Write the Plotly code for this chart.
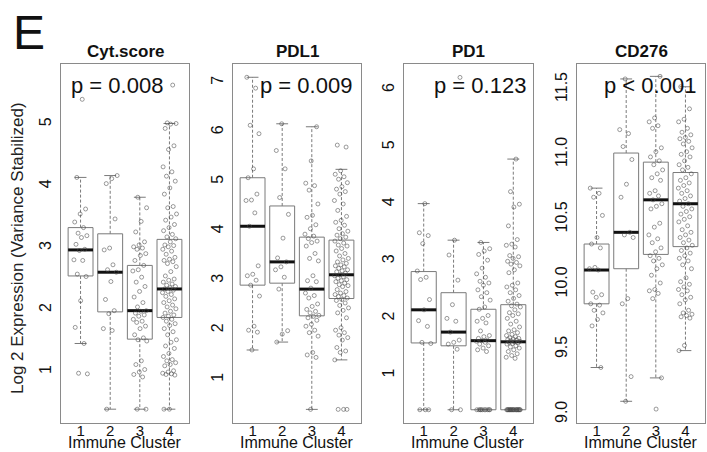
import plotly.graph_objects as go

# ---------------- data ----------------
CLUSTERS = [1, 2, 3, 4]
PANEL_TITLES = ["Cyt.score", "PDL1", "PD1", "CD276"]
P_LABELS = ["p = 0.008", "p = 0.009", "p = 0.123", "p < 0.001"]

# Cyt.score
CYT_HI = [4.14, 4.17, 3.82, 5.01]
CYT_Q3 = [3.33, 3.23, 2.72, 3.14]
CYT_MED = [2.97, 2.61, 1.99, 2.34]
CYT_Q1 = [2.55, 1.97, 1.53, 1.88]
CYT_LO = [1.46, 0.40, 0.40, 0.40]
CYT_PTS = [
    [5.40, 4.14, 3.63, 3.55, 3.42, 3.33, 3.24, 3.20, 3.17, 3.06, 2.98, 2.96, 2.81, 2.80,
     2.58, 2.54, 2.15, 1.72, 1.46, 0.98, 0.97],
    [4.17, 4.12, 4.04, 3.47, 3.00, 2.97, 2.73, 2.65, 2.61, 2.46, 2.17, 1.99, 1.94, 1.70,
     1.67, 0.40],
    [3.82, 3.65, 3.43, 3.26, 3.10, 3.05, 3.02, 3.00, 2.98, 2.91, 2.88, 2.80, 2.72, 2.65,
     2.63, 2.53, 2.45, 2.38, 2.30, 2.21, 2.12, 2.05, 1.99, 1.98, 1.95, 1.92, 1.90, 1.85,
     1.82, 1.80, 1.74, 1.70, 1.60, 1.55, 1.52, 1.50, 1.18, 1.12, 1.04, 1.00, 0.96, 0.92,
     0.40, 0.40],
    [5.63, 5.02, 5.01, 5.00, 4.93, 4.65, 4.59, 4.31, 4.23, 4.16, 4.08, 3.97, 3.87, 3.67,
     3.65, 3.55, 3.50, 3.45, 3.38, 3.33, 3.28, 3.22, 3.18, 3.15, 3.10, 3.05, 3.04, 3.02,
     2.98, 2.95, 2.90, 2.85, 2.82, 2.80, 2.78, 2.75, 2.70, 2.62, 2.55, 2.50, 2.48, 2.45,
     2.42, 2.40, 2.38, 2.36, 2.34, 2.32, 2.30, 2.28, 2.25, 2.22, 2.18, 2.15, 2.12, 2.08,
     2.05, 2.02, 1.98, 1.95, 1.92, 1.90, 1.88, 1.85, 1.82, 1.78, 1.75, 1.70, 1.65, 1.60,
     1.52, 1.48, 1.42, 1.38, 1.30, 1.25, 1.20, 1.18, 1.15, 1.12, 1.10, 1.02, 1.00, 0.98,
     0.97, 0.96, 0.95, 0.40, 0.40],
]

# PDL1
PDL1_HI = [7.11, 6.17, 6.11, 5.25]
PDL1_Q3 = [5.08, 4.51, 3.88, 3.82]
PDL1_MED = [4.10, 3.38, 2.83, 3.12]
PDL1_Q1 = [2.91, 2.95, 2.29, 2.64]
PDL1_LO = [1.60, 1.76, 0.40, 1.40]
PDL1_PTS = [
    [7.11, 6.89, 6.14, 5.97, 5.26, 5.08, 4.75, 4.63, 4.62, 4.37, 4.10, 3.30, 3.13, 3.10,
     3.01, 2.91, 2.69, 2.08, 2.00, 1.96, 1.60],
    [6.17, 5.63, 5.26, 4.68, 4.34, 3.86, 3.46, 3.38, 3.28, 3.22, 3.07, 2.83, 1.99, 1.92,
     1.76],
    [6.11, 5.42, 4.97, 4.92, 4.83, 4.55, 4.32, 4.28, 4.13, 4.05, 3.94, 3.90, 3.85, 3.80,
     3.77, 3.70, 3.55, 3.45, 3.40, 3.10, 3.00, 2.98, 2.85, 2.75, 2.70, 2.65, 2.53, 2.48,
     2.42, 2.38, 2.35, 2.30, 2.28, 2.25, 2.20, 2.12, 2.08, 2.00, 1.95, 1.88, 1.55, 1.50,
     1.45, 0.40],
    [5.74, 5.70, 5.22, 5.15, 5.10, 5.05, 4.98, 4.90, 4.85, 4.80, 4.75, 4.62, 4.55, 4.42,
     4.30, 4.22, 4.18, 4.12, 4.05, 4.00, 3.95, 3.92, 3.88, 3.85, 3.80, 3.76, 3.72, 3.70,
     3.65, 3.60, 3.55, 3.50, 3.45, 3.42, 3.38, 3.35, 3.32, 3.30, 3.28, 3.25, 3.22, 3.20,
     3.18, 3.15, 3.12, 3.10, 3.08, 3.05, 3.02, 3.00, 2.98, 2.95, 2.92, 2.90, 2.88, 2.82,
     2.78, 2.75, 2.72, 2.70, 2.68, 2.65, 2.62, 2.60, 2.55, 2.50, 2.45, 2.40, 2.35, 2.25,
     2.05, 2.00, 1.95, 1.90, 1.85, 1.80, 1.65, 1.58, 1.55, 1.40, 0.40, 0.40, 0.40],
]

# PD1
PD1_HI = [4.01, 3.37, 3.33, 4.79]
PD1_Q3 = [2.82, 2.45, 2.16, 2.24]
PD1_MED = [2.15, 1.76, 1.61, 1.59]
PD1_Q1 = [1.57, 1.52, 0.40, 0.40]
PD1_LO = [0.40, 0.40, 0.40, 0.40]
PD1_PTS = [
    [4.01, 3.50, 3.45, 3.31, 2.83, 2.72, 2.68, 2.33, 2.15, 1.96, 1.86, 1.58, 1.56, 0.40,
     0.40, 0.40],
    [6.22, 3.37, 3.11, 2.67, 2.24, 2.00, 1.95, 1.76, 1.62, 1.58, 1.55, 1.46, 0.40, 0.40],
    [3.33, 3.22, 3.18, 3.12, 3.02, 2.88, 2.78, 2.72, 2.65, 2.62, 2.58, 2.50, 2.45, 2.38,
     2.32, 2.20, 2.16, 2.05, 2.00, 1.95, 1.92, 1.78, 1.70, 1.68, 1.65, 1.62, 1.61, 1.60,
     1.58, 1.55, 1.52, 1.48, 1.45, 1.42, 0.40, 0.40, 0.40, 0.40, 0.40, 0.40, 0.40, 0.40,
     0.40, 0.40],
    [4.79, 4.22, 4.00, 3.95, 3.62, 3.38, 3.30, 3.28, 3.25, 3.10, 3.08, 3.05, 3.00, 2.98,
     2.95, 2.92, 2.85, 2.80, 2.62, 2.58, 2.55, 2.50, 2.45, 2.40, 2.35, 2.30, 2.25, 2.22,
     2.20, 2.15, 2.10, 2.08, 2.05, 2.00, 1.95, 1.90, 1.85, 1.80, 1.78, 1.75, 1.72, 1.70,
     1.68, 1.66, 1.65, 1.64, 1.63, 1.62, 1.61, 1.60, 1.59, 1.58, 1.57, 1.56, 1.55, 1.52,
     1.50, 1.48, 1.45, 1.42, 1.38, 1.35, 1.32, 1.30, 0.40, 0.40, 0.40, 0.40, 0.40, 0.40,
     0.40, 0.40, 0.40, 0.40, 0.40, 0.40, 0.40, 0.40, 0.40, 0.40, 0.40, 0.40, 0.40, 0.40],
]

# CD276
CD276_HI = [10.74, 11.58, 11.60, 11.52]
CD276_Q3 = [10.31, 11.01, 10.94, 10.86]
CD276_MED = [10.11, 10.40, 10.65, 10.62]
CD276_Q1 = [9.85, 10.12, 10.23, 10.29]
CD276_LO = [9.36, 9.10, 9.28, 9.49]
CD276_PTS = [
    [10.74, 10.70, 10.67, 10.53, 10.36, 10.31, 10.28, 10.13, 10.12, 10.11, 9.94, 9.92,
     9.90, 9.85, 9.84, 9.80, 9.78, 9.73, 9.68, 9.36],
    [11.58, 11.19, 11.16, 11.06, 10.96, 10.77, 10.67, 10.40, 10.38, 10.36, 9.89, 9.85,
     9.29, 9.10],
    [11.60, 11.28, 11.25, 11.22, 11.20, 11.05, 11.02, 10.98, 10.95, 10.92, 10.88, 10.85,
     10.82, 10.80, 10.72, 10.70, 10.68, 10.65, 10.62, 10.60, 10.58, 10.47, 10.44, 10.38,
     10.35, 10.32, 10.28, 10.25, 10.22, 10.20, 10.18, 10.15, 10.12, 10.07, 10.01, 9.96,
     9.95, 9.93, 9.89, 9.28, 9.04],
    [11.52, 11.35, 11.27, 11.25, 11.20, 11.17, 11.15, 11.13, 11.12, 11.10, 11.08, 11.05,
     11.02, 11.00, 10.98, 10.95, 10.92, 10.90, 10.88, 10.85, 10.82, 10.80, 10.78, 10.76,
     10.74, 10.72, 10.70, 10.68, 10.66, 10.64, 10.62, 10.60, 10.58, 10.56, 10.54, 10.52,
     10.50, 10.48, 10.45, 10.42, 10.40, 10.38, 10.36, 10.34, 10.32, 10.30, 10.28, 10.26,
     10.24, 10.22, 10.20, 10.18, 10.15, 10.12, 10.05, 10.02, 10.00, 9.98, 9.96, 9.95,
     9.92, 9.90, 9.88, 9.85, 9.80, 9.78, 9.77, 9.76, 9.75, 9.74, 9.53, 9.49],
]

Y_TICKS = [[1, 2, 3, 4, 5], [1, 2, 3, 4, 5, 6, 7], [1, 2, 3, 4, 5, 6],
           [9.0, 9.5, 10.0, 10.5, 11.0, 11.5]]
Y_TICKTEXT = [["1", "2", "3", "4", "5"], ["1", "2", "3", "4", "5", "6", "7"],
              ["1", "2", "3", "4", "5", "6"],
              ["9.0", "9.5", "10.0", "10.5", "11.0", "11.5"]]
Y_RANGES = [[0.177, 5.97], [0.125, 7.378], [0.168, 6.455], [8.933, 11.695]]

PANELS = [
    (CYT_LO, CYT_Q1, CYT_MED, CYT_Q3, CYT_HI, CYT_PTS),
    (PDL1_LO, PDL1_Q1, PDL1_MED, PDL1_Q3, PDL1_HI, PDL1_PTS),
    (PD1_LO, PD1_Q1, PD1_MED, PD1_Q3, PD1_HI, PD1_PTS),
    (CD276_LO, CD276_Q1, CD276_MED, CD276_Q3, CD276_HI, CD276_PTS),
]

# ---------------- layout / style ----------------
W, H = 707, 452
PANEL_PX = [(61, 189), (233, 361), (404, 533), (577, 705)]
TOP_PX, BOT_PX = 64, 423
P_X = [2.23, 2.79, 2.87, 2.79]   # horizontal position of the p-value label (axis units)
BOX_HW = 0.42
STAPLE_HW = 0.2
JIT = 0.24
FONT = "Liberation Sans, Arial, Helvetica, sans-serif"
GRAY = "#7a7a7a"

fig = go.Figure()

def jitter_offsets(n, seed):
    out = []
    for i in range(n):
        f = ((i + 1) * 0.6180339887 + seed * 0.37) % 1.0
        out.append((f - 0.5) * 2 * JIT)
    return out

for p, (lo, q1, med, q3, hi, pts) in enumerate(PANELS):
    xa = "x" if p == 0 else f"x{p + 1}"
    ya = "y" if p == 0 else f"y{p + 1}"
    bx, by, wx, wy, sx, sy, mx, my = [], [], [], [], [], [], [], []
    for k, c in enumerate(CLUSTERS):
        bx += [c - BOX_HW, c + BOX_HW, c + BOX_HW, c - BOX_HW, c - BOX_HW, None]
        by += [q1[k], q1[k], q3[k], q3[k], q1[k], None]
        wx += [c, c, None, c, c, None]
        wy += [q3[k], hi[k], None, q1[k], lo[k], None]
        sx += [c - STAPLE_HW, c + STAPLE_HW, None, c - STAPLE_HW, c + STAPLE_HW, None]
        sy += [hi[k], hi[k], None, lo[k], lo[k], None]
        mx += [c - BOX_HW, c + BOX_HW, None]
        my += [med[k], med[k], None]
    fig.add_trace(go.Scatter(x=wx, y=wy, mode="lines", xaxis=xa, yaxis=ya,
                             line=dict(color=GRAY, width=1, dash="3px,2px"),
                             hoverinfo="skip", showlegend=False))
    fig.add_trace(go.Scatter(x=sx, y=sy, mode="lines", xaxis=xa, yaxis=ya,
                             line=dict(color=GRAY, width=1),
                             hoverinfo="skip", showlegend=False))
    fig.add_trace(go.Scatter(x=bx, y=by, mode="lines", xaxis=xa, yaxis=ya,
                             line=dict(color=GRAY, width=1),
                             hoverinfo="skip", showlegend=False))
    fig.add_trace(go.Scatter(x=mx, y=my, mode="lines", xaxis=xa, yaxis=ya,
                             line=dict(color="#111111", width=3),
                             hoverinfo="skip", showlegend=False))
    px_, py_ = [], []
    for k, c in enumerate(CLUSTERS):
        offs = jitter_offsets(len(pts[k]), p * 4 + k)
        px_ += [c + o for o in offs]
        py_ += pts[k]
    fig.add_trace(go.Scatter(x=px_, y=py_, mode="markers", xaxis=xa, yaxis=ya,
                             marker=dict(symbol="circle-open", size=4,
                                         color="rgba(70,70,70,0.6)",
                                         line=dict(width=0.9)),
                             showlegend=False))

layout = dict(
    width=W, height=H, margin=dict(l=0, r=0, t=0, b=0),
    paper_bgcolor="white", plot_bgcolor="white",
    font=dict(family=FONT, color="#111111"),
)
annotations = []
for p in range(4):
    sfx = "" if p == 0 else str(p + 1)
    x0, x1 = PANEL_PX[p]
    layout["xaxis" + sfx] = dict(
        domain=[x0 / W, x1 / W], range=[0.34, 4.66], anchor="y" + sfx,
        tickvals=CLUSTERS, ticktext=[str(c) for c in CLUSTERS],
        ticks="", ticklabelstandoff=-6,
        tickfont=dict(size=15, family=FONT, color="#111"),
        showgrid=False, zeroline=False, showline=True, mirror=True,
        linecolor="#8a8a8a", linewidth=1, fixedrange=True,
    )
    layout["yaxis" + sfx] = dict(
        domain=[1 - BOT_PX / H, 1 - TOP_PX / H], range=Y_RANGES[p], anchor="x" + sfx,
        tickvals=Y_TICKS[p], ticktext=Y_TICKTEXT[p], tickangle=-90,
        ticks="outside", ticklen=3, tickcolor="rgba(0,0,0,0)",
        tickfont=dict(size=16, family=FONT, color="#111"),
        showgrid=False, zeroline=False, showline=True, mirror=True,
        linecolor="#8a8a8a", linewidth=1, fixedrange=True,
    )
    cx = (x0 + x1) / 2 / W
    annotations.append(dict(text="<b>" + PANEL_TITLES[p] + "</b>", x=cx, y=1 - 52 / H,
                            xref="paper", yref="paper", showarrow=False,
                            xanchor="center", yanchor="middle",
                            font=dict(size=17, family=FONT, color="#111")))
    annotations.append(dict(text=P_LABELS[p], x=P_X[p], y=1 - 86 / H,
                            xref="x" + sfx, yref="paper", showarrow=False,
                            xanchor="center", yanchor="middle",
                            font=dict(size=22, family=FONT, color="#111")))
    annotations.append(dict(text="Immune Cluster", x=cx, y=0,
                            xref="paper", yref="paper", showarrow=False,
                            xanchor="center", yanchor="bottom", borderpad=0,
                            font=dict(size=16, family=FONT, color="#111")))

annotations.append(dict(text="E", x=29 / W, y=1 - 32 / H, xref="paper", yref="paper",
                        showarrow=False, xanchor="center", yanchor="middle",
                        font=dict(size=48, family=FONT, color="#111")))
annotations.append(dict(text="Log 2 Expression (Variance Stabilized)", x=18 / W,
                        y=1 - 248 / H, xref="paper", yref="paper", showarrow=False,
                        textangle=-90, xanchor="center", yanchor="middle",
                        font=dict(size=17, family=FONT, color="#222")))
layout["annotations"] = annotations
fig.update_layout(**layout)

fig.write_html("out.html", config={"displayModeBar": False},
               post_script="document.body.style.margin='0';"
                           "document.body.style.overflow='hidden';")
